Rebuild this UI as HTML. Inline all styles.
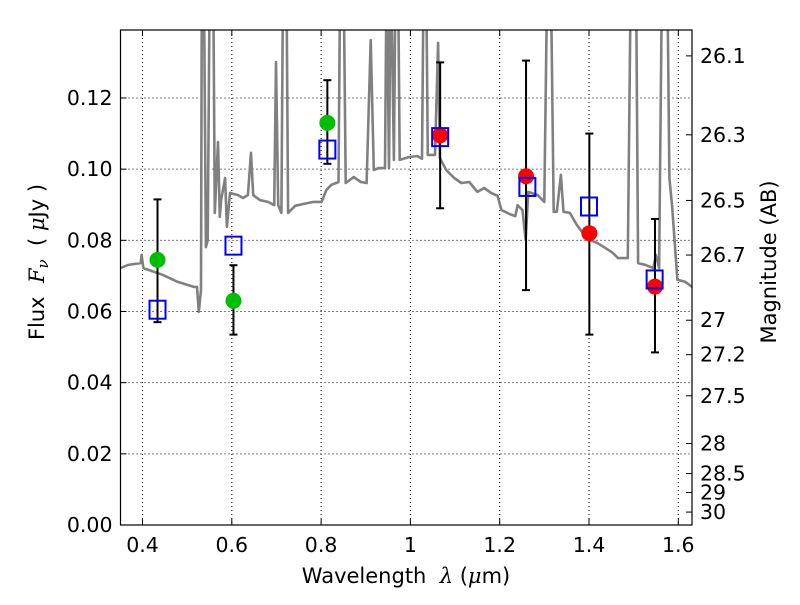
<!DOCTYPE html>
<html><head><meta charset="utf-8"><style>
body{margin:0;background:#fff;}
svg text{font-family:"DejaVu Sans","Liberation Sans",sans-serif;fill:#000;}
</style></head><body>
<svg id="c" width="800" height="600" xmlns="http://www.w3.org/2000/svg"></svg>
<script>
const specLam=[0.346,0.368,0.396,0.398,0.402,0.445,0.479,0.515,0.522,0.526,0.531,0.533,0.537,0.542,0.546,0.551,0.558,0.562,0.569,0.573,0.576,0.585,0.589,0.596,0.614,0.625,0.636,0.643,0.648,0.663,0.681,0.695,0.699,0.704,0.711,0.715,0.722,0.726,0.742,0.760,0.783,0.801,0.812,0.823,0.839,0.843,0.850,0.855,0.873,0.889,0.902,0.911,0.918,0.929,0.943,0.947,0.952,0.956,0.963,0.967,0.972,0.976,0.997,1.015,1.026,1.030,1.035,1.039,1.055,1.062,1.066,1.080,1.098,1.114,1.132,1.150,1.165,1.181,1.195,1.204,1.222,1.235,1.240,1.251,1.258,1.264,1.285,1.300,1.307,1.314,1.321,1.328,1.337,1.343,1.357,1.373,1.386,1.402,1.418,1.436,1.454,1.465,1.487,1.494,1.505,1.510,1.526,1.544,1.550,1.557,1.564,1.575,1.580,1.586,1.598,1.616,1.631];
const specFlux=[0.0720,0.0731,0.0736,0.0759,0.0722,0.0703,0.0683,0.0669,0.0669,0.0599,0.0660,0.16,0.16,0.0781,0.0800,0.16,0.16,0.0877,0.1076,0.0866,0.0913,0.0975,0.0838,0.0933,0.0927,0.0919,0.0927,0.1046,0.0927,0.0913,0.0908,0.0899,0.1301,0.0899,0.0877,0.16,0.16,0.0877,0.0897,0.0902,0.0908,0.0908,0.0942,0.0956,0.0964,0.16,0.16,0.0961,0.0978,0.0964,0.0961,0.1363,0.0998,0.1003,0.1003,0.16,0.1003,0.16,0.1026,0.16,0.16,0.1026,0.1034,0.1037,0.1029,0.16,0.16,0.1040,0.1040,0.1355,0.1031,0.0998,0.0975,0.0961,0.0964,0.0936,0.0947,0.0933,0.0925,0.0885,0.0874,0.0868,0.0899,0.0885,0.0801,0.0936,0.0927,0.0908,0.16,0.16,0.0880,0.0880,0.0984,0.0880,0.0877,0.0843,0.0821,0.0801,0.0793,0.0779,0.0764,0.0750,0.0750,0.16,0.16,0.0736,0.0731,0.0722,0.0759,0.0722,0.16,0.16,0.0975,0.0900,0.0689,0.0683,0.0669];
const greenLam=[0.4336,0.6037,0.814];
const greenFlux=[0.0745,0.063,0.113];
const redLam=[1.0666,1.259,1.4008,1.5478];
const redFlux=[0.1095,0.098,0.082,0.067];
const sqLam=[0.4336,0.6037,0.814,1.0666,1.262,1.400,1.547];
const sqFlux=[0.0605,0.0785,0.1055,0.109,0.095,0.0895,0.069];
const errLam=[0.4336,0.6037,0.814,1.0666,1.259,1.4008,1.5478];
const errHi=[0.0915,0.073,0.125,0.130,0.1305,0.110,0.086];
const errLo=[0.057,0.0535,0.1015,0.089,0.066,0.0535,0.0485];
const xTicks=[0.4,0.6,0.8,1.0,1.2,1.4,1.6];
const xTickLabels=["0.4","0.6","0.8","1","1.2","1.4","1.6"];
const yTicks=[0,0.02,0.04,0.06,0.08,0.10,0.12];
const yTickLabels=["0.00","0.02","0.04","0.06","0.08","0.10","0.12"];
const magTicks=[26.1,26.3,26.5,26.7,27,27.2,27.5,28,28.5,29,30];

const L=120.5,R=692,T=30,B=525;
const xmin=0.3507,xmax=1.6307,ymin=0,ymax=0.1391;
const X=v=>L+(v-xmin)/(xmax-xmin)*(R-L);
const Y=v=>B-(v-ymin)/(ymax-ymin)*(B-T);
const svg=document.getElementById('c');
const NS='http://www.w3.org/2000/svg';
function mk(tag,attrs,parent){const e=document.createElementNS(NS,tag);for(const k in attrs)e.setAttribute(k,attrs[k]);(parent||svg).appendChild(e);return e;}

const defs=mk('defs',{});
const cp=mk('clipPath',{id:'clip'},defs);
mk('rect',{x:L,y:T,width:R-L,height:B-T},cp);

xTicks.forEach(v=>{const g=mk('line',{x1:X(v),x2:X(v),y1:T,y2:B,stroke:'#000','stroke-width':1,'stroke-dasharray':'1,3'});

});
yTicks.forEach(v=>{const g=mk('line',{x1:L,x2:R,y1:Y(v),y2:Y(v),stroke:'#000','stroke-width':1,'stroke-dasharray':'1,3'});

});

const pts=specLam.map((l,i)=>X(l).toFixed(1)+','+Y(specFlux[i]).toFixed(1)).join(' ');
const sp=mk('polyline',{points:pts,fill:'none',stroke:'#808080','stroke-width':2.6,'stroke-linejoin':'round','clip-path':'url(#clip)'});



errLam.forEach((l,i)=>{const g=mk('g',{stroke:'#000','stroke-width':2});


const x=X(l);mk('line',{x1:x,x2:x,y1:Y(errHi[i]),y2:Y(errLo[i])},g);
mk('line',{x1:x-4,x2:x+4,y1:Y(errHi[i]),y2:Y(errHi[i])},g);
mk('line',{x1:x-4,x2:x+4,y1:Y(errLo[i]),y2:Y(errLo[i])},g);});

greenLam.forEach((l,i)=>{const c=mk('circle',{cx:X(l),cy:Y(greenFlux[i]),r:8,fill:'#00bf00'});

});
redLam.forEach((l,i)=>{const c=mk('circle',{cx:X(l),cy:Y(redFlux[i]),r:8,fill:'#ff0000'});

});
sqLam.forEach((l,i)=>{const s=mk('rect',{x:X(l)-8,y:Y(sqFlux[i])-9,width:16,height:18,fill:'none',stroke:'#0000ff','stroke-width':2});

});

const fr=mk('rect',{x:L,y:T,width:R-L,height:B-T,fill:'none',stroke:'#000','stroke-width':1.2});



xTicks.forEach((v,i)=>{const x=X(v);
mk('line',{x1:x,x2:x,y1:B,y2:B-6,stroke:'#000'});mk('line',{x1:x,x2:x,y1:T,y2:T+6,stroke:'#000'});
const t=mk('text',{x:x,y:B+27,'text-anchor':'middle','font-size':20.5});t.textContent=xTickLabels[i];

});
yTicks.forEach((v,i)=>{const y=Y(v);
mk('line',{x1:L,x2:L+6,y1:y,y2:y,stroke:'#000'});
const t=mk('text',{x:L-8,y:y+7,'text-anchor':'end','font-size':20.5});t.textContent=yTickLabels[i];

});
magTicks.forEach(m=>{const f=Math.pow(10,(23.9-m)/2.5);const y=Y(f);
mk('line',{x1:R,x2:R-6,y1:y,y2:y,stroke:'#000'});
const t=mk('text',{x:R+8,y:y+7,'text-anchor':'start','font-size':20.5});t.textContent=String(m);

});
</script>
<svg width="800" height="600" style="position:absolute;left:0;top:0" xmlns="http://www.w3.org/2000/svg">
<text x="406" y="583" text-anchor="middle" font-size="21">Wavelength&#160;&#160;<tspan font-style="italic" font-family="DejaVu Serif,serif">λ</tspan> (<tspan font-style="italic" font-family="DejaVu Serif,serif">μ</tspan>m)</text>
<text transform="translate(44,262) rotate(-90)" text-anchor="middle" font-size="21">Flux&#160;&#160;<tspan font-style="italic" font-family="DejaVu Serif,serif">F<tspan font-size="15" dy="4">ν</tspan></tspan><tspan dy="-4">&#160;&#160;(&#160;</tspan><tspan font-style="italic" font-family="DejaVu Serif,serif">μ</tspan>Jy )</text>
<text transform="translate(776,262) rotate(-90)" text-anchor="middle" font-size="21">Magnitude (AB)</text>
</svg>
</body></html>
